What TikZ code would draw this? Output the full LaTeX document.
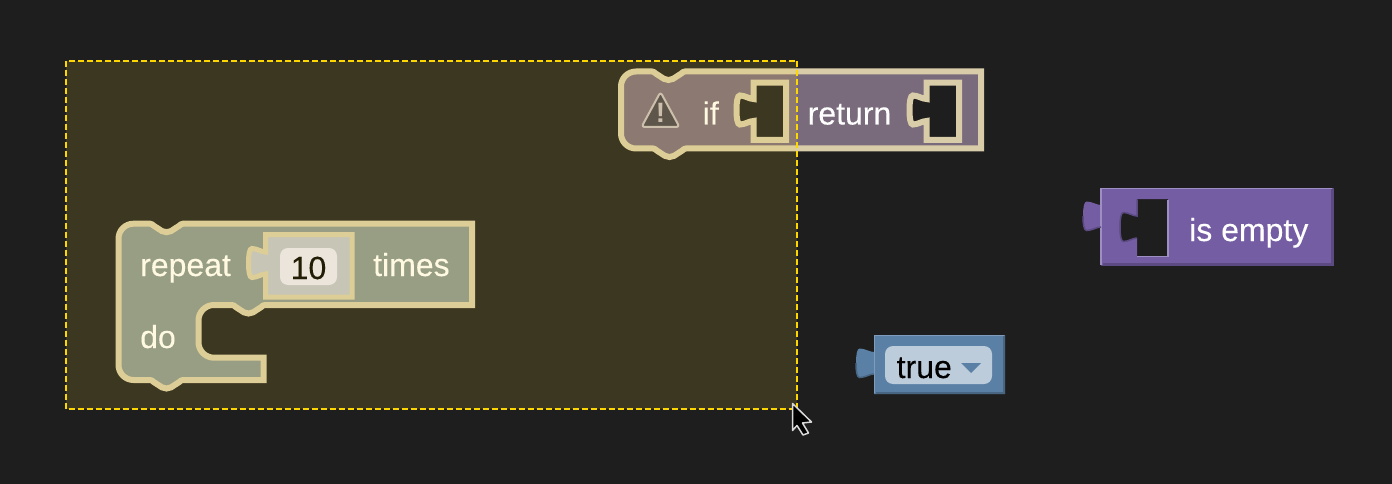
\documentclass[tikz,border=0pt]{standalone}
\usepackage{fontspec}
\setmainfont{Liberation Sans}
\definecolor{bgc}{HTML}{1E1E1E}
\definecolor{selc}{HTML}{FFD700}
\definecolor{selfill}{HTML}{FFD732}
\definecolor{ifstroke}{HTML}{D8CDA8}
\definecolor{retfill}{HTML}{7A6B7C}
\definecolor{repfill}{HTML}{889691}
\definecolor{valfill}{HTML}{BFC3CC}
\definecolor{valfield}{HTML}{E8E8F7}
\definecolor{purfill}{HTML}{745DA3}
\definecolor{purlight}{HTML}{9D8EC3}
\definecolor{purdark}{HTML}{5C4A82}
\definecolor{blufill}{HTML}{5B80A5}
\definecolor{blulight}{HTML}{7F9CBC}
\definecolor{bludark}{HTML}{486682}
\definecolor{fieldblue}{HTML}{BDCCDB}
\definecolor{warnfill}{HTML}{46424F}
\definecolor{warnline}{HTML}{C4BCBF}
% tab going down / up on a left edge: x, centre y, width
\def\tabd#1#2#3{ -- (#1,{#2-11}) .. controls ({#1-.25*#3},{#2-11}) and ({#1-.5*#3},{#2-14.5}) .. ({#1-.8*#3},{#2-14.5}) .. controls ({#1-.95*#3},{#2-14.5}) and ({#1-#3},{#2-8}) .. ({#1-#3},#2) .. controls ({#1-#3},{#2+8}) and ({#1-.95*#3},{#2+14.5}) .. ({#1-.8*#3},{#2+14.5}) .. controls ({#1-.5*#3},{#2+14.5}) and ({#1-.25*#3},{#2+11}) .. (#1,{#2+11}) }
\def\tabu#1#2#3{ -- (#1,{#2+11}) .. controls ({#1-.25*#3},{#2+11}) and ({#1-.5*#3},{#2+14.5}) .. ({#1-.8*#3},{#2+14.5}) .. controls ({#1-.95*#3},{#2+14.5}) and ({#1-#3},{#2+8}) .. ({#1-#3},#2) .. controls ({#1-#3},{#2-8}) and ({#1-.95*#3},{#2-14.5}) .. ({#1-.8*#3},{#2-14.5}) .. controls ({#1-.5*#3},{#2-14.5}) and ({#1-.25*#3},{#2-11}) .. (#1,{#2-11}) }
% lower half of an outgoing tab, for its shadow
\def\tabshade#1#2#3{ (#1,{#2+11}) .. controls ({#1-.25*#3},{#2+11}) and ({#1-.5*#3},{#2+14.5}) .. ({#1-.8*#3},{#2+14.5}) .. controls ({#1-.95*#3},{#2+14.5}) and ({#1-#3},{#2+8}) .. ({#1-#3},#2) }
% notch: start x, direction, y
\def\notch#1#2#3{ -- (#1,#3) .. controls ({#1+#2*1.5},#3) and ({#1+#2*2.5},{#3+1}) .. ({#1+#2*4},{#3+2.2}) -- ({#1+#2*12},{#3+7.4}) .. controls ({#1+#2*13.5},{#3+8.5}) and ({#1+#2*14.5},{#3+8.5}) .. ({#1+#2*16.5},{#3+8.5}) .. controls ({#1+#2*18.5},{#3+8.5}) and ({#1+#2*19.5},{#3+8.5}) .. ({#1+#2*21},{#3+7.4}) -- ({#1+#2*29},{#3+2.2}) .. controls ({#1+#2*30.5},{#3+1}) and ({#1+#2*31.5},#3) .. ({#1+#2*33},#3) }
\tikzset{
  blockline/.style={draw=ifstroke,line width=6pt,line join=miter},
  lbl/.style={inner sep=0pt,anchor=base west,text=white,font=\fontsize{32}{32}\selectfont\addfontfeature{FakeBold=0.2}},
  darklbl/.style={lbl,text=black},
}
\begin{document}
\begin{tikzpicture}[x=1pt,y=-1pt]
\useasboundingbox (0,0) rectangle (1392,484);
\fill[bgc] (0,0) rectangle (1392,484);

% if / return block
\path[blockline,fill=retfill,even odd rule]
  (636,71.5) \notch{652}{1}{71.5} -- (981,71.5) -- (981,148.5) \notch{686}{-1}{148.5} -- (636,148.5)
  arc[start angle=90,end angle=180,radius=15] -- (621,86.5)
  arc[start angle=180,end angle=270,radius=15] -- cycle
  (753.5,82.7) \tabd{753.5}{110}{17} -- (753.5,140) -- (786,140) -- (786,82.7) -- cycle
  (926.5,82.7) \tabd{926.5}{110}{17} -- (926.5,140) -- (959,140) -- (959,82.7) -- cycle;
\path[fill=warnfill] (660.5,93) -- (679,127) -- (642,127) -- cycle;
\path[draw=warnline,line width=2pt,line join=round,rounded corners=3pt]
  (660.5,92) -- (679.5,127) -- (641.5,127) -- cycle;
\node[inner sep=0pt,anchor=base,text=warnline,font=\fontsize{28}{28}\bfseries\selectfont] (warn) at (660.5,122.5) {!};
\node[lbl] (iftxt) at (702.5,124.5) {if};
\node[lbl] (rettxt) at (807.5,124.5) {return};

% repeat block
\path[blockline,fill=repfill]
  (133.5,223.7) \notch{150}{1}{223.7} -- (472,223.7) -- (472,305) \notch{265}{-1}{305} -- (214,305)
  arc[start angle=270,end angle=180,radius=15.5] -- (198.5,342.2)
  arc[start angle=180,end angle=90,radius=15.5] -- (263.5,357.7) -- (263.5,380) \notch{183}{-1}{380} -- (133.5,380)
  arc[start angle=90,end angle=180,radius=15] -- (118.5,238.7)
  arc[start angle=180,end angle=270,radius=15] -- cycle;
\path[draw=ifstroke,line width=5pt,fill=valfill]
  (265.5,234.5) \tabd{265.5}{263}{17} -- (265.5,297) -- (352,297) -- (352,234.5) -- cycle;
\node[fill=valfield,rounded corners=8pt,minimum width=57pt,minimum height=37pt,inner sep=0pt] (numfield) at (308.5,266.5) {};
\node[darklbl,anchor=base] (numtxt) at (308.5,279) {10};
\node[lbl] (reptxt) at (140,276) {repeat};
\node[lbl] (timestxt) at (373,276) {times};
\node[lbl] (dotxt) at (140,348) {do};

% is empty block
\path[fill=purfill,even odd rule]
  (1101,188) -- (1333.5,188) -- (1333.5,265.7) -- (1101,265.7) \tabu{1101}{216}{18} -- cycle
  (1137,199) \tabd{1137}{227}{17} -- (1137,257) -- (1168,257) -- (1168,199) -- cycle;
\draw[purlight,line width=1.5pt] (1101,265) -- (1101,188.7) -- (1332,188.7);
\draw[purdark,line width=2.5pt] (1332.5,189) -- (1332.5,264.7) -- (1103,264.7);
\draw[purlight,line width=1.5pt] (1137,256.5) -- (1168,256.5) -- (1168,199.5);
\draw[purdark,line width=1.5pt] (1137,199.5) \tabd{1137}{227}{17};
\draw[purdark,line width=1.5pt] \tabshade{1101}{216}{18};
\node[lbl] (emptytxt) at (1189,241) {is empty};

% true block
\path[fill=blufill]
  (874,335) -- (1005,335) -- (1005,394) -- (874,394) \tabu{874}{363}{18} -- cycle;
\draw[blulight,line width=1.5pt] (874.7,393) -- (874.7,335.7) -- (1004,335.7);
\draw[bludark,line width=2pt] (1004,336) -- (1004,393) -- (876,393);
\draw[bludark,line width=1.5pt] \tabshade{874}{363}{18};
\node[fill=fieldblue,rounded corners=8pt,minimum width=107pt,minimum height=38pt,inner sep=0pt] (truefield) at (938.5,365) {};
\node[darklbl] (truetxt) at (896.5,378) {true};
\path[fill=blufill] (961,363) -- (981,363) -- (971,373) -- cycle;

% selection overlay
\node[draw=none,fill=selfill,fill opacity=0.138,inner sep=0pt,anchor=north west,minimum width=731pt,minimum height=348pt] (selarea) at (66,61) {};
\draw[selc,line width=2pt,dash pattern=on 6pt off 3pt] (selarea.north west) rectangle (selarea.south east);

% cursor
\path[draw=white!85!black,fill=black,line width=1.5pt,line join=round]
  (792.5,403.5) -- (811.5,422) -- (802.5,423) -- (808.5,433) -- (803,435) -- (797,425.5) -- (792.5,430.5) -- cycle;
\end{tikzpicture}
\end{document}
